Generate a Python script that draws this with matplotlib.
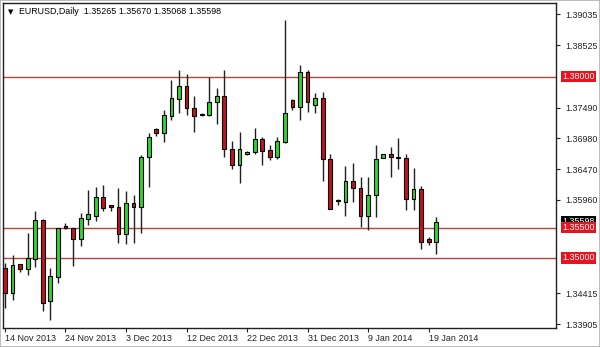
import matplotlib
matplotlib.use("Agg")
import matplotlib.pyplot as plt
import matplotlib.transforms as mtransforms
import numpy as np

# ---- data (EURUSD daily) ----
opens = [1.34829, 1.34425, 1.34895, 1.34812, 1.34978, 1.35629, 1.34292, 1.34690, 1.35524, 1.35491,
         1.35314, 1.35645, 1.35700, 1.36015, 1.35872, 1.35849, 1.35397, 1.35905, 1.35839, 1.36677,
         1.37131, 1.37064, 1.37351, 1.37637, 1.37848, 1.37478, 1.37379, 1.37367, 1.37588, 1.37687,
         1.36804, 1.36539, 1.36717, 1.36760, 1.36965, 1.36788, 1.36677, 1.36925, 1.37616, 1.37505,
         1.38075, 1.37533, 1.37654, 1.36639, 1.35960, 1.35932, 1.36279, 1.36154, 1.35695, 1.36043,
         1.36650, 1.36722, 1.36664, 1.36650, 1.35971, 1.36137, 1.35314, 1.35265]
highs = [1.34917, 1.35049, 1.34905, 1.35408, 1.35783, 1.35640, 1.34839, 1.35501, 1.35584, 1.35500,
         1.35740, 1.36125, 1.36170, 1.36208, 1.35877, 1.36154, 1.36114, 1.36043, 1.36705, 1.37064,
         1.37147, 1.37450, 1.37947, 1.38113, 1.38041, 1.37682, 1.37405, 1.37992, 1.37810, 1.38113,
         1.36937, 1.37091, 1.36771, 1.37147, 1.37008, 1.36871, 1.37008, 1.38941, 1.37627, 1.38195,
         1.38113, 1.37737, 1.37753, 1.36717, 1.35968, 1.36523, 1.36568, 1.36346, 1.36336, 1.36871,
         1.36722, 1.36842, 1.36982, 1.36717, 1.36485, 1.36192, 1.35352, 1.35670]
lows = [1.34163, 1.34304, 1.34772, 1.34718, 1.34845, 1.34127, 1.33973, 1.34590, 1.35475, 1.34872,
        1.35198, 1.35546, 1.35612, 1.35783, 1.35783, 1.35243, 1.35226, 1.35253, 1.35408, 1.36180,
        1.37025, 1.36925, 1.37285, 1.37396, 1.37367, 1.37091, 1.37356, 1.37356, 1.37213, 1.36677,
        1.36473, 1.36246, 1.36705, 1.36717, 1.36539, 1.36622, 1.36639, 1.36904, 1.37450, 1.37285,
        1.37422, 1.37396, 1.36279, 1.35803, 1.35877, 1.35695, 1.35932, 1.35518, 1.35463, 1.35683,
        1.36647, 1.36346, 1.36473, 1.35794, 1.35794, 1.35148, 1.35215, 1.35068]
closes = [1.34425, 1.34883, 1.34812, 1.34994, 1.35629, 1.34259, 1.34701, 1.35491, 1.35491, 1.35319,
          1.35657, 1.35723, 1.36015, 1.35822, 1.35839, 1.35397, 1.35905, 1.35839, 1.36677, 1.37008,
          1.37064, 1.37367, 1.37644, 1.37848, 1.37478, 1.37356, 1.37374, 1.37588, 1.37687, 1.36804,
          1.36539, 1.36799, 1.36760, 1.36965, 1.36771, 1.36677, 1.36937, 1.37396, 1.37505, 1.38075,
          1.37578, 1.37654, 1.36634, 1.35806, 1.35944, 1.36279, 1.36154, 1.35695, 1.36043, 1.36634,
          1.36717, 1.36667, 1.36659, 1.35976, 1.36137, 1.35259, 1.35259, 1.35598]

date_labels = ['14 Nov 2013', '24 Nov 2013', '3 Dec 2013', '12 Dec 2013',
               '22 Dec 2013', '31 Dec 2013', '9 Jan 2014', '19 Jan 2014']
date_label_bars = [0, 8, 16, 24, 32, 40, 48, 56]

price_ticks = [1.39035, 1.38525, 1.37490, 1.36980, 1.36470, 1.35960, 1.34415, 1.33905]
levels = [1.38000, 1.35500, 1.35000]
level_labels = ['1.38000', '1.35500', '1.35000']
symbol = 'EURUSD,Daily'
last_price = 1.35598

# ---- style ----
FONT = 'Liberation Sans'
FS = 6.4
UP = '#2FD52F'
DN = '#C0141E'
LEVEL_C = '#B4463C'

fig = plt.figure(figsize=(6.0, 3.47), dpi=100)
fig.patch.set_facecolor('white')
ax = fig.add_axes([2.7 / 600, 1 - 328 / 347, (556.5 - 2.7) / 600, (328 - 3) / 347])

x = np.arange(len(opens))
o = np.array(opens); h = np.array(highs); l = np.array(lows); c = np.array(closes)
up = c >= o

# level lines (behind candles)
for lv in levels:
    ax.axhline(lv, color=LEVEL_C, lw=1.0, zorder=1)

ax.vlines(x, l, h, color='#202020', lw=1.0, zorder=2)
bottoms = np.minimum(o, c)
heights = np.abs(c - o)
colors = [UP if u else DN for u in up]
ax.bar(x, heights, bottom=bottoms, width=0.5, color=colors, edgecolor='black',
       linewidth=0.8, zorder=3)

ax.set_xlim(-0.3, 72.9)
ax.set_ylim(1.33840, 1.39222)

for s in ax.spines.values():
    s.set_color('#202020')
    s.set_linewidth(1.0)

ax.yaxis.tick_right()
ax.set_yticks(price_ticks)
ax.set_yticklabels([f'{v:.5f}' for v in price_ticks])
ax.tick_params(axis='y', length=3, width=0.8, pad=3.5, colors='#202020',
               labelsize=FS, labelcolor='#202020')
for lbl in ax.get_yticklabels():
    lbl.set_fontfamily(FONT)

ax.set_xticks(date_label_bars)
ax.set_xticklabels(date_labels)
ax.tick_params(axis='x', length=3, width=0.8, pad=1.5, colors='#202020',
               labelsize=FS, labelcolor='#202020')
for lbl in ax.get_xticklabels():
    lbl.set_fontfamily(FONT)
    lbl.set_ha('left')

# right side price labels
ytrans = ax.get_yaxis_transform()
off = mtransforms.offset_copy(ytrans, fig=fig, x=6.0, y=0, units='dots')
ax.text(1.0, last_price, f'{last_price:.5f}', transform=off, fontsize=FS, family=FONT,
        color='white', va='center', ha='left', clip_on=False, zorder=5,
        bbox=dict(boxstyle='square,pad=0.12', fc='black', ec='none'))
for lv, lt in zip(levels, level_labels):
    ax.text(1.0, lv, lt, transform=off, fontsize=FS, family=FONT,
            color='white', va='center', ha='left', clip_on=False, zorder=6,
            bbox=dict(boxstyle='square,pad=0.12', fc='#E5141E', ec='none'))

# header
fig.text(8 / 600, 1 - 12 / 347, '\u25BC', fontsize=5, family='DejaVu Sans',
         color='black', va='center', ha='left')
fig.text(19 / 600, 1 - 12 / 347,
         f'{symbol}  ' + ' '.join(f'{v:.5f}' for v in [opens[-1], highs[-1], lows[-1], closes[-1]]),
         fontsize=FS, family=FONT, color='black', va='center', ha='left')

# outer border
fig.patches.append(matplotlib.patches.Rectangle((0, 0), 1, 1, transform=fig.transFigure,
                                                fill=False, ec='#B0B0B0', lw=1.2))

fig.savefig('out.png', dpi=100)
